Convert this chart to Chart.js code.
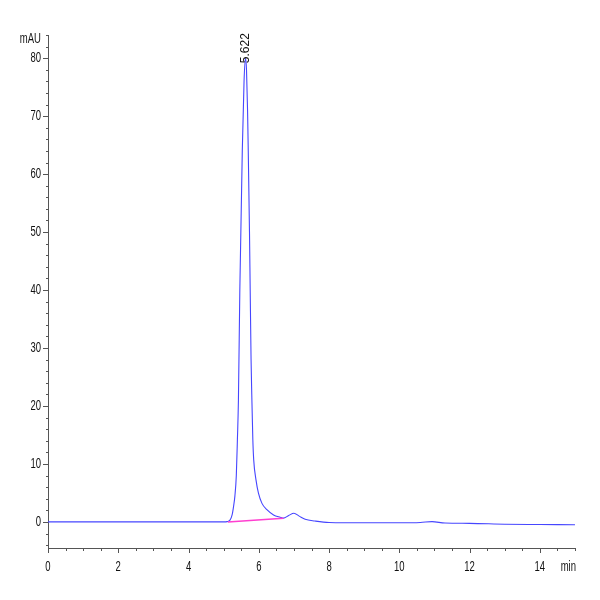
<!DOCTYPE html>
<html>
<head>
<meta charset="utf-8">
<script src="https://cdn.jsdelivr.net/npm/chart.js@4/dist/chart.umd.min.js"></script>
<style>
  html, body { margin: 0; padding: 0; background: #fff; }
  #chrom { display: block; }
</style>
</head>
<body>
<canvas id="chrom" width="600" height="600"></canvas>
<script>
// retention time (min) and signal (mAU)
const retentionTimes = [0, 2.3, 4.0, 5.0, 5.1, 5.18, 5.24, 5.28, 5.32, 5.36, 5.39, 5.42, 5.46, 5.53, 5.58, 5.622,
  5.65, 5.68, 5.70, 5.735, 5.755, 5.78, 5.80, 5.83, 5.855, 5.92, 5.99, 6.09, 6.23, 6.42, 6.61, 6.70, 6.85, 7.0, 7.15, 7.32, 7.6, 8.0,
  9.0, 10.0, 10.6, 10.93, 11.3, 12.0, 13.0, 14.0, 15.0];
const signal = [0, 0, 0, 0, 0.05, 0.3, 1.2, 2.6, 4.5, 8, 14, 21, 40, 64, 76, 80,
  78, 71, 64, 50, 40, 28, 22, 14.2, 10.7, 7.25, 4.95, 3.2, 2.1, 1.2, 0.8, 0.65, 1.1, 1.5, 1.0, 0.45, 0.15, -0.1,
  -0.15, -0.15, -0.1, 0.05, -0.2, -0.25, -0.4, -0.45, -0.5];

// integration baseline under the main peak
const baselineTimes = [5.12, 6.70];
const baselineValues = [0, 0.65];

const peakTime = 5.622;
const peakLabel = '5.622';

const xMajorTicks = [0, 2, 4, 6, 8, 10, 12, 14];
const yMajorTicks = [0, 10, 20, 30, 40, 50, 60, 70, 80];

const fontFamily = '"Liberation Sans", Arial, sans-serif';
const squeeze = 0.68; // the instrument font is very narrow

function toPoints(xs, ys) {
  return xs.map((x, i) => ({ x: x, y: ys[i] }));
}

function stepList(from, to, step) {
  const out = [];
  for (let v = from; v <= to + 1e-9; v += step) out.push(Math.round(v * 100) / 100);
  return out;
}

function narrowText(ctx, text, x, y, align) {
  ctx.save();
  ctx.translate(x, y);
  ctx.scale(squeeze, 1);
  ctx.textAlign = align;
  ctx.textBaseline = 'middle';
  ctx.fillText(text, 0, 0);
  ctx.restore();
}

// tick marks, tick labels and the extra text (units, peak label)
const decorations = {
  id: 'decorations',
  afterDraw(chart) {
    const ctx = chart.ctx;
    const xs = chart.scales.x;
    const ys = chart.scales.y;
    const area = chart.chartArea;
    ctx.save();
    ctx.strokeStyle = '#555';
    ctx.lineWidth = 1;
    stepList(0, 15, 0.5).forEach(v => {
      const px = Math.round(xs.getPixelForValue(v)) + 0.5;
      const len = xMajorTicks.includes(v) ? 5 : 3;
      ctx.beginPath();
      ctx.moveTo(px, area.bottom);
      ctx.lineTo(px, area.bottom + len);
      ctx.stroke();
    });
    stepList(-4, 84, 2).forEach(v => {
      const py = Math.round(ys.getPixelForValue(v)) + 0.5;
      const len = yMajorTicks.includes(v) ? 5 : 2;
      ctx.beginPath();
      ctx.moveTo(area.left - len, py);
      ctx.lineTo(area.left, py);
      ctx.stroke();
    });

    ctx.fillStyle = '#111';
    ctx.font = '14px ' + fontFamily;
    xMajorTicks.forEach(v => {
      narrowText(ctx, String(v), xs.getPixelForValue(v), area.bottom + 19, 'center');
    });
    yMajorTicks.forEach(v => {
      narrowText(ctx, String(v), area.left - 7, ys.getPixelForValue(v), 'right');
    });
    narrowText(ctx, 'mAU', area.left - 7, ys.getPixelForValue(83.3), 'right');
    narrowText(ctx, 'min', area.right + 1, area.bottom + 19, 'right');

    // peak label, rotated
    const lx = xs.getPixelForValue(peakTime);
    const ly = ys.getPixelForValue(80) + 5;
    ctx.translate(lx, ly);
    ctx.rotate(-Math.PI / 2);
    ctx.font = '12px ' + fontFamily;
    ctx.textAlign = 'left';
    ctx.textBaseline = 'middle';
    ctx.fillText(peakLabel, 0, 0);
    ctx.restore();
  }
};

new Chart(document.getElementById('chrom'), {
  type: 'line',
  data: {
    datasets: [
      {
        data: toPoints(baselineTimes, baselineValues),
        borderColor: '#ff3fd0',
        borderWidth: 1.5,
        pointRadius: 0,
        tension: 0
      },
      {
        data: toPoints(retentionTimes, signal),
        borderColor: 'rgb(70,70,255)',
        borderWidth: 1.1,
        pointRadius: 0,
        cubicInterpolationMode: 'monotone'
      }
    ]
  },
  options: {
    responsive: false,
    animation: false,
    layout: { padding: { top: 35, right: 25, left: 0, bottom: 0 } },
    plugins: { legend: { display: false }, tooltip: { enabled: false } },
    scales: {
      x: {
        type: 'linear',
        min: 0,
        max: 15,
        grid: { display: false, drawTicks: false },
        border: { display: true, color: '#555', width: 1 },
        afterFit: s => { s.height = 52; },
        ticks: { display: false }
      },
      y: {
        type: 'linear',
        min: -4.5,
        max: 84,
        grid: { display: false, drawTicks: false },
        border: { display: true, color: '#555', width: 1 },
        afterFit: s => { s.width = 48; },
        ticks: { display: false }
      }
    }
  },
  plugins: [decorations]
});
</script>
</body>
</html>
